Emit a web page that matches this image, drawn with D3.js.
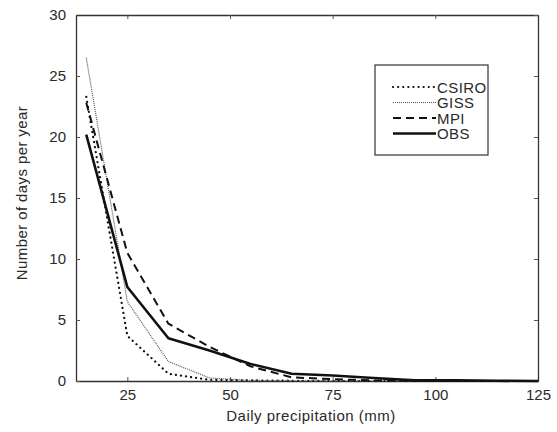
<!DOCTYPE html>
<html lang="en">
<head>
<meta charset="UTF-8">
<title>Days per year by daily precipitation</title>
<script src="https://d3js.org/d3.v7.min.js"></script>
<style>
  body { margin: 0; background: #fff; }
  svg text { font-family: "Liberation Sans", Arial, sans-serif; fill: #2a2a2a; }
</style>
</head>
<body>
<svg id="chart" width="557" height="432"></svg>
<script>
// data (bin centres in mm)
const precip = [15, 25, 35, 45, 55, 65, 75, 85, 95, 105, 115, 125];
const csiro = [23.3, 3.7, 0.6, 0.1, 0.05, 0.02, 0, 0, 0, 0, 0, 0];
const giss  = [26.5, 6.5, 1.6, 0.25, 0.05, 0.02, 0, 0, 0, 0, 0, 0];
const mpi   = [22.8, 10.5, 4.7, 2.8, 1.2, 0.3, 0.15, 0.05, 0.02, 0, 0, 0];
const obs   = [20.2, 7.7, 3.5, 2.5, 1.4, 0.6, 0.45, 0.25, 0.05, 0.05, 0.02, 0];
const xTicks = [25, 50, 75, 100, 125];
const yTicks = [0, 5, 10, 15, 20, 25, 30];

const series = [
  { name: "CSIRO", values: csiro, width: 2.2, dash: "0.1,5", cap: "round", color: "#111" },
  { name: "GISS",  values: giss,  width: 1.2, dash: "1,1",   cap: "butt",  color: "#555" },
  { name: "MPI",   values: mpi,   width: 2,   dash: "8,5",   cap: "butt",  color: "#111" },
  { name: "OBS",   values: obs,   width: 2.6, dash: null,    cap: "butt",  color: "#111" }
];

const svg = d3.select("#chart");
const margin = { top: 15, right: 19, bottom: 51, left: 76 };
const width = 557 - margin.left - margin.right,
      height = 432 - margin.top - margin.bottom;

const x = d3.scaleLinear().domain([12.5, 125]).range([0, width]);
const y = d3.scaleLinear().domain([0, 30]).range([height, 0]);

const g = svg.append("g").attr("transform", `translate(${margin.left},${margin.top})`);

// axes, ticks pointing inward, mirrored on top and right
function styleAxis(sel) {
  sel.select(".domain").attr("stroke", "#333").attr("stroke-width", 1.3);
  sel.selectAll(".tick line").attr("stroke", "#555").attr("stroke-width", 1);
  sel.selectAll(".tick text").style("font-size", "15px");
}
g.append("g").attr("transform", `translate(0,${height})`)
  .call(d3.axisBottom(x).tickValues(xTicks).tickSizeInner(-4).tickSizeOuter(0).tickPadding(8))
  .call(styleAxis);
g.append("g")
  .call(d3.axisLeft(y).tickValues(yTicks).tickSizeInner(-4).tickSizeOuter(0).tickPadding(10))
  .call(styleAxis);
g.append("g")
  .call(d3.axisTop(x).tickValues(xTicks).tickSizeInner(-4).tickSizeOuter(0).tickFormat(""))
  .call(styleAxis);
g.append("g").attr("transform", `translate(${width},0)`)
  .call(d3.axisRight(y).tickValues(yTicks).tickSizeInner(-4).tickSizeOuter(0).tickFormat(""))
  .call(styleAxis);

// lines
const line = d3.line().x((d, i) => x(precip[i])).y(d => y(d));
series.forEach(s => {
  g.append("path")
    .datum(s.values)
    .attr("fill", "none")
    .attr("stroke", s.color)
    .attr("stroke-width", s.width)
    .attr("stroke-dasharray", s.dash)
    .attr("stroke-linecap", s.cap)
    .attr("stroke-linejoin", "round")
    .attr("d", line);
});

// axis labels
svg.append("text")
  .attr("x", margin.left + width / 2 + 4)
  .attr("y", 421)
  .attr("text-anchor", "middle")
  .style("font-size", "15px")
  .style("letter-spacing", "0.5px")
  .text("Daily precipitation (mm)");
svg.append("text")
  .attr("transform", `translate(27,${margin.top + height / 2 - 5}) rotate(-90)`)
  .attr("text-anchor", "middle")
  .style("font-size", "15px")
  .style("letter-spacing", "0.4px")
  .text("Number of days per year");

// legend
const legend = svg.append("g").attr("transform", "translate(375,65)");
legend.append("rect")
  .attr("width", 113).attr("height", 90)
  .attr("fill", "#fff").attr("stroke", "#333").attr("stroke-width", 1.2);
series.forEach((s, i) => {
  const ly = 22 + i * 15.5;
  legend.append("line")
    .attr("x1", 18).attr("x2", 61).attr("y1", ly).attr("y2", ly)
    .attr("stroke", s.color)
    .attr("stroke-width", s.width)
    .attr("stroke-dasharray", s.dash)
    .attr("stroke-linecap", s.cap);
  legend.append("text")
    .attr("x", 62).attr("y", ly + 5.5)
    .style("font-size", "15px")
    .style("letter-spacing", "0.4px")
    .text(s.name);
});
</script>
</body>
</html>
